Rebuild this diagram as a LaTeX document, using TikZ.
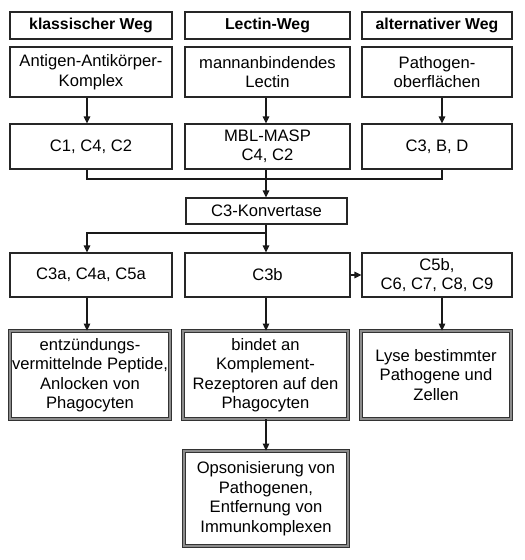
\documentclass[tikz,border=0pt]{standalone}
\usepackage{fontspec}
\setmainfont{Liberation Sans}
\usetikzlibrary{arrows.meta,calc}
\begin{document}
\begin{tikzpicture}[x=1pt,y=-1pt,
  box/.style={draw=black!85,line width=1.1pt,align=center,inner sep=0pt,font=\fontsize{16.6}{19.5}\selectfont},
  dbox/.style={box,draw=black!80,line width=0.7pt,double=black!45,double distance=1.8pt},
  hd/.style={box,font=\fontsize{15.8}{19.5}\selectfont\bfseries},
  arr/.style={line width=1.1pt,draw=black!90,-{Triangle[length=7pt,width=6.5pt]}},
  ln/.style={line width=1.1pt,draw=black!90}]
\useasboundingbox (0,0) rectangle (525,560);
% headers
\node[hd,minimum width=162pt,minimum height=27pt] (h1) at (91,25.5) {klassischer Weg};
\node[hd,minimum width=165pt,minimum height=27pt] (h2) at (267.5,25.5) {Lectin-Weg};
\node[hd,minimum width=150pt,minimum height=27pt] (h3) at (437,25.5) {alternativer Weg};
% row 2
\node[box,minimum width=162pt,minimum height=50pt] (a2) at (91,72) {Antigen-Antikörper-\\Komplex};
\node[box,minimum width=165pt,minimum height=50pt] (b2) at (267.5,72) {mannanbindendes\\Lectin};
\node[box,minimum width=150pt,minimum height=50pt] (c2) at (437,72) {Pathogen-\\oberflächen};
% row 3
\node[box,minimum width=162pt,minimum height=45pt] (a3) at (91,146.5) {C1, C4, C2};
\node[box,minimum width=165pt,minimum height=45pt] (b3) at (267.5,146.5) {MBL-MASP\\C4, C2};
\node[box,minimum width=150pt,minimum height=45pt] (c3) at (437,146.5) {C3, B, D};
% konvertase
\node[box,minimum width=161pt,minimum height=26pt] (k) at (266.5,211) {C3-Konvertase};
% row 4
\node[box,minimum width=162pt,minimum height=44pt] (a4) at (91,275) {C3a, C4a, C5a};
\node[box,minimum width=165pt,minimum height=44pt] (b4) at (267.5,275) {C3b};
\node[box,minimum width=150pt,minimum height=44pt] (c4) at (437,275) {C5b,\\C6, C7, C8, C9};
% row 5
\node[dbox,minimum width=160pt,minimum height=88pt] (a5) at (90,375) {entzündungs-\\vermittelnde Peptide,\\Anlocken von\\Phagocyten};
\node[dbox,minimum width=165pt,minimum height=88pt] (b5) at (265.5,375) {bindet an\\Komplement-\\Rezeptoren auf den\\Phagocyten};
\node[dbox,minimum width=150pt,minimum height=88pt] (c5) at (436,375) {Lyse bestimmter\\Pathogene und\\Zellen};
% row 6
\node[dbox,minimum width=164pt,minimum height=95pt] (b6) at (266,498.5) {Opsonisierung von\\Pathogenen,\\Entfernung von\\Immunkomplexen};
% connectors
\draw[arr] ([xshift=-4pt]a2.south) -- ([xshift=-4pt]a3.north);
\draw[arr] ([xshift=-1.5pt]b2.south) -- ([xshift=-1.5pt]b3.north);
\draw[arr] ([xshift=5pt]c2.south) -- ([xshift=5pt]c3.north);
\coordinate (j) at (266,179);
\draw[ln] ([xshift=-4pt]a3.south) |- (j) -| ([xshift=5pt]c3.south);
\draw[arr] ([xshift=-1.5pt]b3.south) -- ([xshift=-0.5pt]k.north);
\coordinate (br) at (266,233);
\draw[arr] ([xshift=-0.5pt]k.south) -- ([xshift=-1.5pt]b4.north);
\draw[arr] (br) -| ([xshift=-4pt]a4.north);
\draw[arr] (b4.east) -- (c4.west);
\draw[arr] ([xshift=-4pt]a4.south) -- ([xshift=-3pt]a5.north);
\draw[arr] ([xshift=-1.5pt]b4.south) -- ([xshift=0.5pt]b5.north);
\draw[arr] ([xshift=5pt]c4.south) -- ([xshift=6pt]c5.north);
\draw[arr] ([xshift=0.5pt]b5.south) -- (b6.north);
\end{tikzpicture}
\end{document}
